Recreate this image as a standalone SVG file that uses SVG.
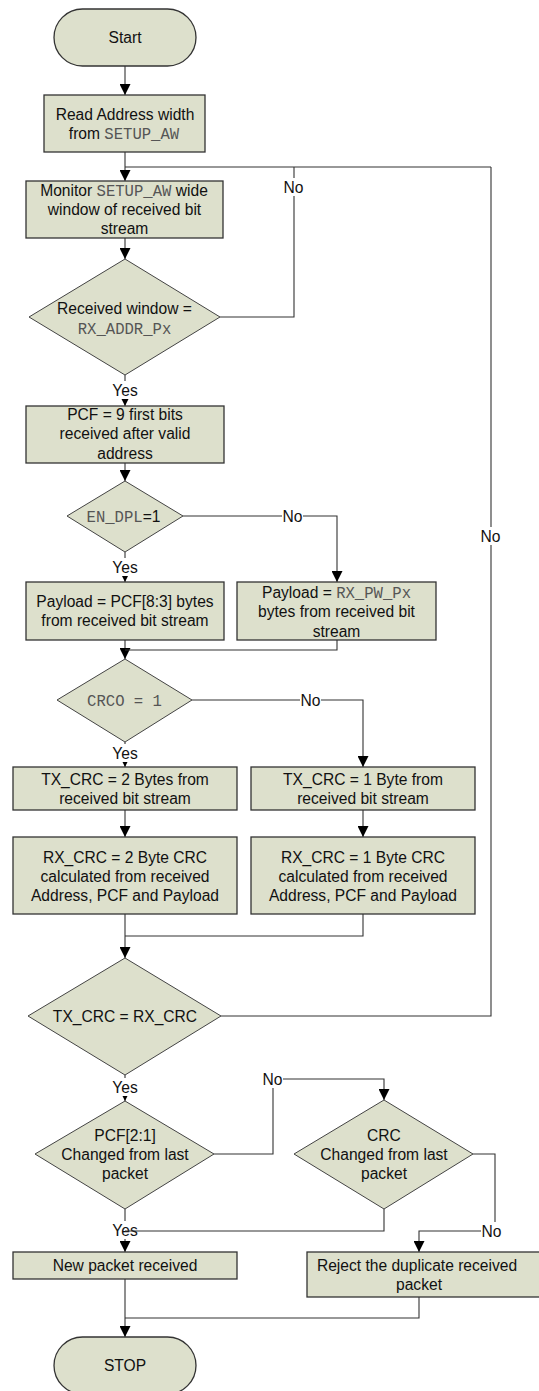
<svg xmlns="http://www.w3.org/2000/svg" width="539" height="1391" viewBox="0 0 539 1391">
<style>
.n{fill:#dde0cc;stroke:#333;stroke-width:1.3}
.d{fill:#dde0cc;stroke:#444;stroke-width:1}
.t{font-family:"Liberation Sans",Arial,sans-serif;font-size:15.6px;fill:#111;text-anchor:middle}
.m{font-family:"Liberation Mono","Courier New",monospace;font-size:15.6px;fill:#555}
.c{fill:none;stroke:#333;stroke-width:1.1}
.a{marker-end:url(#ah)}
.lb{fill:#fff}
</style>
<defs>
<marker id="ah" viewBox="0 0 10 10" refX="10" refY="5" markerWidth="11" markerHeight="11" markerUnits="userSpaceOnUse" orient="auto">
<path d="M0,0 L10,5 L0,10 Z" fill="#000"/>
</marker>
</defs>
<rect width="539" height="1391" fill="#fff"/>

<g id="connectors">
<path class="c a" d="M125,66 V95"/>
<path class="c a" d="M125,152 V181"/>
<path class="c" d="M125,167 H491"/>
<path class="c" d="M220,317 H294 V167"/>
<path class="c a" d="M125,238 V259"/>
<path class="c a" d="M125,375 V406"/>
<path class="c a" d="M125,463 V481"/>
<path class="c a" d="M183,516 H337 V582"/>
<path class="c a" d="M125,552 V582"/>
<path class="c a" d="M125,640 V659"/>
<path class="c" d="M337,640 V650 H125"/>
<path class="c a" d="M192,700 H363 V767"/>
<path class="c a" d="M125,742 V767"/>
<path class="c a" d="M125,810 V837"/>
<path class="c a" d="M363,810 V837"/>
<path class="c a" d="M125,914 V958"/>
<path class="c" d="M363,914 V936 H125"/>
<path class="c" d="M221,1016 H491 V167"/>
<path class="c a" d="M125,1075 V1101"/>
<path class="c a" d="M214,1154 H273 V1079 H384 V1100"/>
<path class="c a" d="M125,1209 V1252"/>
<path class="c a" d="M473,1154 H495 V1231 H419 V1252"/>
<path class="c a" d="M125,1279 V1337"/>
<path class="c" d="M419,1297 V1318 H125"/>
<g id="labels">
<rect class="lb" x="283" y="178" width="21" height="18"/><text class="t" x="293.5" y="192.5">No</text>
<rect class="lb" x="111" y="381" width="28" height="18"/><text class="t" x="125" y="395.5">Yes</text>
<rect class="lb" x="282" y="507" width="21" height="18"/><text class="t" x="292.5" y="521.5">No</text>
<rect class="lb" x="111" y="558" width="28" height="18"/><text class="t" x="125" y="572.5">Yes</text>
<rect class="lb" x="300" y="691" width="21" height="18"/><text class="t" x="310.5" y="705.5">No</text>
<rect class="lb" x="111" y="744" width="28" height="18"/><text class="t" x="125" y="758.5">Yes</text>
<rect class="lb" x="480" y="527" width="21" height="18"/><text class="t" x="490.5" y="541.5">No</text>
<rect class="lb" x="111" y="1078" width="28" height="18"/><text class="t" x="125" y="1092.5">Yes</text>
<rect class="lb" x="262" y="1070" width="21" height="18"/><text class="t" x="272.5" y="1084.5">No</text>
<rect class="lb" x="481" y="1222" width="21" height="18"/><text class="t" x="491.5" y="1236.5">No</text>
<rect class="lb" x="111" y="1221" width="28" height="18"/><text class="t" x="125" y="1235.5">Yes</text>
</g>
<path class="c" d="M384,1209 V1231 H125"/>
</g>

<g id="start"><rect class="n" x="54" y="9" width="142" height="57" rx="28.5"/><text class="t" x="125" y="42.5">Start</text></g>
<g id="read"><rect class="n" x="44" y="95" width="161" height="57"/><text class="t" x="125" y="119.5">Read Address width</text><text class="t" x="124" y="138.5">from <tspan class="m">SETUP_AW</tspan></text></g>
<g id="monitor"><rect class="n" x="26" y="181" width="197" height="57"/><text class="t" x="124" y="195.5">Monitor <tspan class="m">SETUP_AW</tspan> wide</text><text class="t" x="124.5" y="214.5">window of received bit</text><text class="t" x="124.5" y="233.5">stream</text></g>
<g id="addrmatch"><polygon class="d" points="125,259 220,317 125,375 29,317"/><text class="t" x="124.5" y="313.5">Received window =</text><text class="t m" x="124.5" y="333.5">RX_ADDR_Px</text></g>
<g id="pcf"><rect class="n" x="26" y="406" width="198" height="57"/><text class="t" x="125" y="419.5">PCF = 9 first bits</text><text class="t" x="125" y="438.5">received after valid</text><text class="t" x="125" y="458.5">address</text></g>
<g id="endpl"><polygon class="d" points="125,481 183,516 125,552 67,516"/><text class="t" x="123.5" y="521.5"><tspan class="m">EN_DPL</tspan>=1</text></g>
<g id="payloaddyn"><rect class="n" x="26" y="582" width="198" height="58"/><text class="t" x="125" y="606.5">Payload = PCF[8:3] bytes</text><text class="t" x="125" y="625.5">from received bit stream</text></g>
<g id="payloadstatic"><rect class="n" x="237" y="582" width="199" height="58"/><text class="t" x="336.5" y="597.5">Payload = <tspan class="m">RX_PW_Px</tspan></text><text class="t" x="336.5" y="616.5">bytes from received bit</text><text class="t" x="336.5" y="636.5">stream</text></g>
<g id="crco"><polygon class="d" points="125,659 192,700 125,742 57,700"/><text class="t m" x="124.5" y="705.5">CRCO = 1</text></g>
<g id="txcrc2"><rect class="n" x="13" y="767" width="224" height="43"/><text class="t" x="125" y="784.5">TX_CRC = 2 Bytes from</text><text class="t" x="125" y="803.5">received bit stream</text></g>
<g id="txcrc1"><rect class="n" x="251" y="767" width="224" height="43"/><text class="t" x="363" y="784.5">TX_CRC = 1 Byte from</text><text class="t" x="363" y="803.5">received bit stream</text></g>
<g id="rxcrc2"><rect class="n" x="13" y="837" width="224" height="77"/><text class="t" x="125" y="862.5">RX_CRC = 2 Byte CRC</text><text class="t" x="125" y="881.5">calculated from received</text><text class="t" x="125" y="900.5">Address, PCF and Payload</text></g>
<g id="rxcrc1"><rect class="n" x="251" y="837" width="224" height="77"/><text class="t" x="363" y="862.5">RX_CRC = 1 Byte CRC</text><text class="t" x="363" y="881.5">calculated from received</text><text class="t" x="363" y="900.5">Address, PCF and Payload</text></g>
<g id="crcmatch"><polygon class="d" points="125,958 221,1016 125,1075 28,1016"/><text class="t" x="125" y="1021.5">TX_CRC = RX_CRC</text></g>
<g id="pcfchanged"><polygon class="d" points="125,1101 214,1154 125,1209 35,1154"/><text class="t" x="125" y="1140.5">PCF[2:1]</text><text class="t" x="125" y="1159.5">Changed from last</text><text class="t" x="125" y="1178.5">packet</text></g>
<g id="crcchanged"><polygon class="d" points="384,1100 473,1154 384,1209 294,1154"/><text class="t" x="384" y="1140.5">CRC</text><text class="t" x="384" y="1159.5">Changed from last</text><text class="t" x="384" y="1178.5">packet</text></g>
<g id="newpacket"><rect class="n" x="13" y="1252" width="224" height="27"/><text class="t" x="125" y="1270.5">New packet received</text></g>
<g id="reject"><rect class="n" x="307" y="1252" width="240" height="45"/><text class="t" x="417" y="1270.5">Reject the duplicate received</text><text class="t" x="419" y="1289.5">packet</text></g>
<g id="stop"><rect class="n" x="54" y="1337" width="142" height="57" rx="28.5"/><text class="t" x="125" y="1370.5">STOP</text></g>
</svg>
